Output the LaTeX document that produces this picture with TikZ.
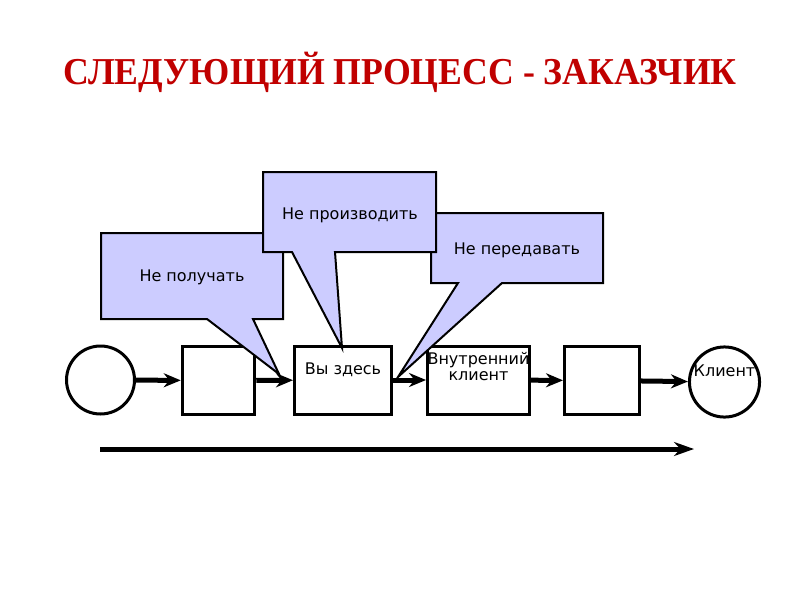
\documentclass[tikz,border=0pt]{standalone}
\usepackage{fontspec}
\setmainfont{DejaVu Sans}
\newfontfamily\titlefont[FakeStretch=0.94]{Liberation Serif}
\usetikzlibrary{arrows.meta}
\definecolor{notefill}{RGB}{204,204,255}
\definecolor{titlered}{RGB}{192,0,0}
\begin{document}
\begin{tikzpicture}[x=1pt, y=-1pt,
  font=\fontsize{16}{16}\selectfont,
  proc/.style={draw, shape=rectangle, line width=3pt, minimum height=68pt, inner sep=0pt, text height=11pt, text depth=23pt},
  ends/.style={draw, shape=circle, line width=3pt, inner sep=0pt, text height=11pt, text depth=23pt},
  flow/.style={-{Stealth[length=17pt, width=14pt]}, line width=5pt},
  note/.style={draw, fill=notefill, line width=2pt}]
\useasboundingbox (0,0) rectangle (800,600);

\node (title) [text=titlered, font=\titlefont\bfseries\fontsize{38}{40}\selectfont] at (400,72) {СЛЕДУЮЩИЙ ПРОЦЕСС - ЗАКАЗЧИК};

\node (supplier) [ends, minimum size=68pt] at (100.5,380) {};
\node (step_get) [proc, minimum width=72.5pt] at (218.5,380.5) {};
\node (step_here) [proc, minimum width=97pt] at (343,380) {Вы здесь};
\node (step_inner) [proc, minimum width=96.5pt, align=center, text height=10pt, text depth=10pt] at (478.5,380) {Внутренний\\клиент};
\node (step_next) [proc, minimum width=75pt] at (602,380.5) {};
\node (client) [ends, minimum size=70pt] at (724.5,382) {Клиент};

\draw[flow] (supplier) -- (step_get);
\draw[flow] (step_get) -- (step_here);
\draw[flow] (step_here) -- (step_inner);
\draw[flow] (step_inner) -- (step_next);
\draw[flow] (step_next) -- (client);

\coordinate (time_start) at (100,449);
\coordinate (time_end) at (694,449);
\draw[flow, -{Stealth[length=20pt, width=14pt]}] (time_start) -- (time_end);

\coordinate (tip_get) at (279,374);
\draw[note] (101,233) -- (283,233) -- (283,319) -- (253,319) -- (tip_get) -- (207,319) -- (101,319) -- cycle;
\node (note_get) at (192,277) {Не получать};

\coordinate (tip_pass) at (398,377);
\draw[note] (431,213) -- (603,213) -- (603,283) -- (502,283) -- (tip_pass) -- (458,283) -- (431,283) -- cycle;
\node (note_pass) at (517,250) {Не передавать};

\coordinate (tip_make) at (342,348);
\draw[note] (263,172) -- (436,172) -- (436,252) -- (335,252) -- (tip_make) -- (292,252) -- (263,252) -- cycle;
\node (note_make) at (350,215) {Не производить};
\end{tikzpicture}
\end{document}
